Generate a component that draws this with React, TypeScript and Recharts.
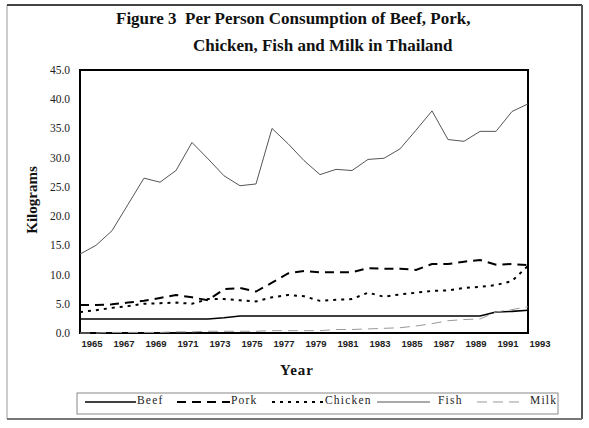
import React from 'react';
import { LineChart, Line, XAxis, YAxis, ReferenceArea } from 'recharts';

const years = [
  1965, 1966, 1967, 1968, 1969, 1970, 1971, 1972, 1973, 1974,
  1975, 1976, 1977, 1978, 1979, 1980, 1981, 1982, 1983, 1984,
  1985, 1986, 1987, 1988, 1989, 1990, 1991, 1992, 1993,
];

const beef = [
  2.4, 2.4, 2.4, 2.4, 2.4, 2.4, 2.4, 2.4, 2.4, 2.6,
  2.9, 2.9, 2.9, 2.9, 2.9, 2.9, 2.9, 2.9, 2.9, 2.9,
  2.9, 2.9, 2.9, 2.9, 2.9, 2.9, 3.6, 3.7, 3.9,
];

const pork = [
  4.8, 4.8, 4.9, 5.2, 5.5, 6.0, 6.5, 6.1, 5.6, 7.5,
  7.7, 7.1, 8.6, 10.2, 10.6, 10.4, 10.4, 10.4, 11.1, 11.0,
  11.0, 10.8, 11.8, 11.8, 12.2, 12.5, 11.7, 11.8, 11.6,
];

const chicken = [
  3.6, 3.9, 4.3, 4.6, 5.0, 5.1, 5.2, 5.0, 5.8, 5.8,
  5.6, 5.4, 6.1, 6.5, 6.3, 5.5, 5.7, 5.8, 6.9, 6.2,
  6.6, 6.9, 7.2, 7.3, 7.7, 7.9, 8.2, 8.9, 11.5,
];

const fish = [
  13.5, 15.0, 17.5, 22.0, 26.5, 25.8, 27.8, 32.6, 29.8, 26.9,
  25.2, 25.5, 35.0, 32.4, 29.5, 27.1, 28.0, 27.8, 29.7, 29.9,
  31.5, 34.7, 38.0, 33.1, 32.8, 34.5, 34.5, 37.9, 39.2,
];

const milk = [
  0.0, 0.0, 0.1, 0.1, 0.1, 0.1, 0.2, 0.2, 0.3, 0.3,
  0.3, 0.3, 0.4, 0.4, 0.4, 0.4, 0.6, 0.6, 0.7, 0.8,
  0.9, 1.2, 1.6, 2.1, 2.3, 2.4, 3.6, 4.0, 4.5,
];

const yTicks = [0, 5, 10, 15, 20, 25, 30, 35, 40, 45];
const xTicks = [1965, 1967, 1969, 1971, 1973, 1975, 1977, 1979, 1981, 1983, 1985, 1987, 1989, 1991, 1993];

const data = years.map((year, i) => ({
  year,
  beef: beef[i],
  pork: pork[i],
  chicken: chicken[i],
  fish: fish[i],
  milk: milk[i],
}));

const series = [
  { key: 'beef', name: 'Beef', color: '#000', width: 1.6, dash: undefined },
  { key: 'pork', name: 'Pork', color: '#000', width: 2, dash: '9 6' },
  { key: 'chicken', name: 'Chicken', color: '#000', width: 2, dash: '3 5' },
  { key: 'fish', name: 'Fish', color: '#555', width: 1, dash: undefined },
  { key: 'milk', name: 'Milk', color: '#999', width: 1, dash: '10 6' },
];

const serif = '"Liberation Serif", "Times New Roman", serif';
const sans = '"Liberation Sans", Arial, sans-serif';

const YTick = (props: any) => (
  <text x={70} y={props.y} dy={4} textAnchor="end" fontFamily={serif} fontSize={11.5} fill="#222">
    {Number(props.payload.value).toFixed(1)}
  </text>
);

const XTick = (props: any) => (
  <text x={props.x + 12} y={props.y} dy={6} textAnchor="middle" fontFamily={sans} fontSize={9.5} fontWeight="bold" fill="#222">
    {props.payload.value}
  </text>
);

// legend item layout: line start, line end, text start
const legendPos = [
  [85, 136, 137],
  [177, 230, 231],
  [272, 323, 325],
  [377, 430, 438],
  [477, 524, 530],
];

export default function App() {
  return (
    <div style={{ position: 'absolute', left: 0, top: 0, width: 589, height: 428, background: '#fff' }}>
      <LineChart
        width={589}
        height={428}
        data={data}
        margin={{ top: 70, right: 61, left: 0, bottom: 65 }}
      >
        <XAxis
          dataKey="year"
          type="number"
          domain={[1965, 1993]}
          ticks={xTicks}
          tick={<XTick />}
          tickLine={false}
          axisLine={false}
          height={30}
          interval={0}
        />
        <YAxis
          type="number"
          domain={[0, 45]}
          ticks={yTicks}
          tick={<YTick />}
          tickLine={false}
          axisLine={false}
          width={80}
        />
        {series.map((s) => (
          <Line
            key={s.key}
            type="linear"
            dataKey={s.key}
            stroke={s.color}
            strokeWidth={s.width}
            strokeDasharray={s.dash}
            dot={false}
            isAnimationActive={false}
          />
        ))}
        <ReferenceArea x1={1965} x2={1993} y1={0} y2={45} fill="none" stroke="#000" strokeWidth={2} ifOverflow="visible" />
      </LineChart>

      <svg width={589} height={428} style={{ position: 'absolute', left: 0, top: 0, pointerEvents: 'none' }}>
        {/* outer frame */}
        <line x1={7} y1={5} x2={7} y2={419} stroke="#999" strokeWidth={1} />
        <line x1={7} y1={5} x2={582} y2={5} stroke="#444" strokeWidth={2} />
        <line x1={582} y1={5} x2={582} y2={419} stroke="#555" strokeWidth={2} />
        <line x1={7} y1={419} x2={582} y2={419} stroke="#777" strokeWidth={2} />

        <text x={116} y={24} fontFamily={serif} fontWeight="bold" fontSize={17} fill="#111" style={{ whiteSpace: 'pre' }}>
          {'Figure 3  Per Person Consumption of Beef, Pork,'}
        </text>
        <text x={193} y={51} fontFamily={serif} fontWeight="bold" fontSize={17} fill="#111">
          Chicken, Fish and Milk in Thailand
        </text>

        <text
          transform="translate(37,200) rotate(-90)"
          textAnchor="middle"
          fontFamily={serif}
          fontWeight="bold"
          fontSize={15}
          fill="#111"
        >
          Kilograms
        </text>
        <text x={297} y={375} textAnchor="middle" fontFamily={serif} fontWeight="bold" fontSize={15} letterSpacing={1} fill="#111">
          Year
        </text>

        <rect x={77} y={393} width={481} height={21} fill="none" stroke="#888" strokeWidth={1} />
        {series.map((s, i) => (
          <g key={s.key}>
            <line
              x1={legendPos[i][0]}
              y1={402}
              x2={legendPos[i][1]}
              y2={402}
              stroke={s.color}
              strokeWidth={s.width}
              strokeDasharray={s.dash}
            />
            <text x={legendPos[i][2]} y={402} dy={1.5} fontFamily={serif} fontSize={11.5} letterSpacing={1.2} fill="#222">
              {s.name}
            </text>
          </g>
        ))}
      </svg>
    </div>
  );
}
